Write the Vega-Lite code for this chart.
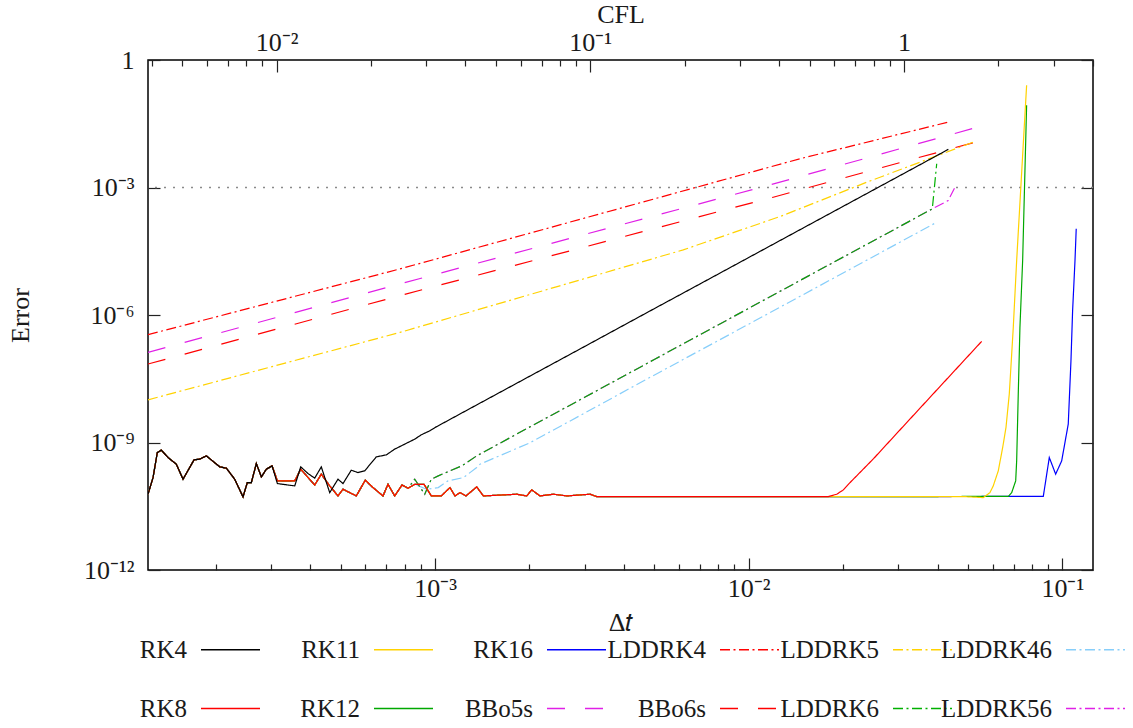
{
"$schema": "https://vega.github.io/schema/vega-lite/v6.json",
"width": 945,
"height": 510,
"autosize": "none",
"padding": {"left": 148, "top": 60, "right": 40, "bottom": 158},
"background": "white",
"config": {
  "font": "Liberation Serif",
  "view": {"stroke": "#000", "strokeWidth": 1.5},
  "axis": {"grid": false, "domain": false, "tickColor": "#222", "tickWidth": 1.2, "labelFont": "Liberation Serif", "labelFontSize": 26, "labelColor": "#1a1a1a", "titleFont": "Liberation Serif", "titleFontSize": 26, "titleFontWeight": "normal", "titleColor": "#1a1a1a", "labelOverlap": false, "labelFlush": false, "labelBound": false}
},
"datasets": {
"curves": [
{"method":"LDDRK4","dt":1.216e-4,"err":3.44e-7},{"method":"LDDRK4","dt":2.572e-4,"err":1.46e-6},{"method":"LDDRK4","dt":7.735e-4,"err":1.216e-5},{"method":"LDDRK4","dt":3.357e-3,"err":2.4e-4},{"method":"LDDRK4","dt":1.457e-2,"err":4.75e-3},{"method":"LDDRK4","dt":4.327e-2,"err":3.46e-2},
{"method":"BBo5s","dt":1.216e-4,"err":1.32e-7},{"method":"BBo5s","dt":7.735e-4,"err":5.38e-6},{"method":"BBo5s","dt":3e-3,"err":7.85e-5},{"method":"BBo5s","dt":1.127e-2,"err":1.07e-3},{"method":"BBo5s","dt":5.528e-2,"err":2.79e-2},
{"method":"BBo6s","dt":1.216e-4,"err":7.02e-8},{"method":"BBo6s","dt":7.735e-4,"err":2.86e-6},{"method":"BBo6s","dt":3e-3,"err":3.99e-5},{"method":"BBo6s","dt":1.197e-2,"err":5.91e-4},{"method":"BBo6s","dt":5.876e-2,"err":1.45e-2},
{"method":"LDDRK5","dt":1.216e-4,"err":1.01e-8},{"method":"LDDRK5","dt":7.735e-4,"err":3.9e-7},{"method":"LDDRK5","dt":2.5e-3,"err":4.86e-6},{"method":"LDDRK5","dt":6.185e-3,"err":3.41e-5},{"method":"LDDRK5","dt":1.258e-2,"err":2.07e-4},{"method":"LDDRK5","dt":2.377e-2,"err":1.33e-3},{"method":"LDDRK5","dt":3.878e-2,"err":5.18e-3},{"method":"LDDRK5","dt":5.2e-2,"err":1.17e-2},

{"method":"LDDRK46","dt":1.216e-4,"err":6.07e-11},{"method":"LDDRK46","dt":1.262e-4,"err":1.49e-10},{"method":"LDDRK46","dt":1.302e-4,"err":5.8e-10},{"method":"LDDRK46","dt":1.341e-4,"err":6.61e-10},{"method":"LDDRK46","dt":1.409e-4,"err":4.43e-10},{"method":"LDDRK46","dt":1.497e-4,"err":3.09e-10},{"method":"LDDRK46","dt":1.573e-4,"err":1.37e-10},{"method":"LDDRK46","dt":1.705e-4,"err":3.9e-10},{"method":"LDDRK46","dt":1.778e-4,"err":4.06e-10},{"method":"LDDRK46","dt":1.866e-4,"err":4.85e-10},{"method":"LDDRK46","dt":2.06e-4,"err":2.67e-10},{"method":"LDDRK46","dt":2.162e-4,"err":2.49e-10},{"method":"LDDRK46","dt":2.298e-4,"err":1.37e-10},{"method":"LDDRK46","dt":2.443e-4,"err":5.25e-11},{"method":"LDDRK46","dt":2.521e-4,"err":1.14e-10},{"method":"LDDRK46","dt":2.597e-4,"err":1.14e-10},{"method":"LDDRK46","dt":2.694e-4,"err":3.19e-10},{"method":"LDDRK46","dt":2.795e-4,"err":1.55e-10},{"method":"LDDRK46","dt":2.9e-4,"err":2.36e-10},{"method":"LDDRK46","dt":3.024e-4,"err":2.82e-10},{"method":"LDDRK46","dt":3.144e-4,"err":1.25e-10},{"method":"LDDRK46","dt":3.571e-4,"err":1.25e-10},{"method":"LDDRK46","dt":3.732e-4,"err":2.36e-10},{"method":"LDDRK46","dt":4.135e-4,"err":1e-10},{"method":"LDDRK46","dt":4.34e-4,"err":1.8e-10},{"method":"LDDRK46","dt":4.616e-4,"err":9.52e-11},{"method":"LDDRK46","dt":4.906e-4,"err":5.53e-11},{"method":"LDDRK46","dt":5.089e-4,"err":7.96e-11},{"method":"LDDRK46","dt":5.61e-4,"err":5.53e-11},{"method":"LDDRK46","dt":5.994e-4,"err":1.3e-10},{"method":"LDDRK46","dt":6.343e-4,"err":8.69e-11},{"method":"LDDRK46","dt":6.826e-4,"err":5.53e-11},{"method":"LDDRK46","dt":7.082e-4,"err":1.04e-10},{"method":"LDDRK46","dt":7.437e-4,"err":5.53e-11},{"method":"LDDRK46","dt":7.847e-4,"err":1e-10},{"method":"LDDRK46","dt":8.203e-4,"err":8.41e-11},{"method":"LDDRK46","dt":8.617e-4,"err":1.04e-10},
{"method":"LDDRK46","dt":9.408e-4,"err":7.96e-11},{"method":"LDDRK46","dt":1.024e-3,"err":8.69e-11},{"method":"LDDRK46","dt":1.1e-3,"err":1.25e-10},{"method":"LDDRK46","dt":1.231e-3,"err":1.49e-10},{"method":"LDDRK46","dt":1.358e-3,"err":2.57e-10},{"method":"LDDRK46","dt":1.391e-3,"err":3.09e-10},{"method":"LDDRK46","dt":2e-3,"err":9.74e-10},{"method":"LDDRK46","dt":3e-3,"err":4.93e-9},{"method":"LDDRK46","dt":4.613e-3,"err":2.8e-8},{"method":"LDDRK46","dt":1e-2,"err":6.09e-7},{"method":"LDDRK46","dt":2e-2,"err":9.74e-6},{"method":"LDDRK46","dt":3e-2,"err":4.93e-5},{"method":"LDDRK46","dt":3.975e-2,"err":1.52e-4},

{"method":"LDDRK56","dt":1.216e-4,"err":6.07e-11},{"method":"LDDRK56","dt":1.262e-4,"err":1.49e-10},{"method":"LDDRK56","dt":1.302e-4,"err":5.8e-10},{"method":"LDDRK56","dt":1.341e-4,"err":6.61e-10},{"method":"LDDRK56","dt":1.409e-4,"err":4.43e-10},{"method":"LDDRK56","dt":1.497e-4,"err":3.09e-10},{"method":"LDDRK56","dt":1.573e-4,"err":1.37e-10},{"method":"LDDRK56","dt":1.705e-4,"err":3.9e-10},{"method":"LDDRK56","dt":1.778e-4,"err":4.06e-10},{"method":"LDDRK56","dt":1.866e-4,"err":4.85e-10},{"method":"LDDRK56","dt":2.06e-4,"err":2.67e-10},{"method":"LDDRK56","dt":2.162e-4,"err":2.49e-10},{"method":"LDDRK56","dt":2.298e-4,"err":1.37e-10},{"method":"LDDRK56","dt":2.443e-4,"err":5.25e-11},{"method":"LDDRK56","dt":2.521e-4,"err":1.14e-10},{"method":"LDDRK56","dt":2.597e-4,"err":1.14e-10},{"method":"LDDRK56","dt":2.694e-4,"err":3.19e-10},{"method":"LDDRK56","dt":2.795e-4,"err":1.55e-10},{"method":"LDDRK56","dt":2.9e-4,"err":2.36e-10},{"method":"LDDRK56","dt":3.024e-4,"err":2.82e-10},{"method":"LDDRK56","dt":3.144e-4,"err":1.25e-10},{"method":"LDDRK56","dt":3.571e-4,"err":1.25e-10},{"method":"LDDRK56","dt":3.732e-4,"err":2.36e-10},{"method":"LDDRK56","dt":4.135e-4,"err":1e-10},{"method":"LDDRK56","dt":4.34e-4,"err":1.8e-10},{"method":"LDDRK56","dt":4.616e-4,"err":9.52e-11},{"method":"LDDRK56","dt":4.906e-4,"err":5.53e-11},{"method":"LDDRK56","dt":5.089e-4,"err":7.96e-11},{"method":"LDDRK56","dt":5.61e-4,"err":5.53e-11},{"method":"LDDRK56","dt":5.994e-4,"err":1.3e-10},{"method":"LDDRK56","dt":6.343e-4,"err":8.69e-11},{"method":"LDDRK56","dt":6.826e-4,"err":5.53e-11},{"method":"LDDRK56","dt":7.082e-4,"err":1.04e-10},{"method":"LDDRK56","dt":7.437e-4,"err":5.53e-11},{"method":"LDDRK56","dt":7.847e-4,"err":1e-10},{"method":"LDDRK56","dt":8.203e-4,"err":8.41e-11},
{"method":"LDDRK56","dt":8.617e-4,"err":1.37e-10},{"method":"LDDRK56","dt":9.273e-4,"err":6.07e-11},{"method":"LDDRK56","dt":9.732e-4,"err":1.37e-10},{"method":"LDDRK56","dt":1.024e-3,"err":1.64e-10},{"method":"LDDRK56","dt":1.116e-3,"err":2.15e-10},{"method":"LDDRK56","dt":1.217e-3,"err":2.82e-10},{"method":"LDDRK56","dt":1.358e-3,"err":4.85e-10},{"method":"LDDRK56","dt":2e-3,"err":2.3e-9},{"method":"LDDRK56","dt":3e-3,"err":1.16e-8},{"method":"LDDRK56","dt":5e-3,"err":8.97e-8},{"method":"LDDRK56","dt":1e-2,"err":1.435e-6},{"method":"LDDRK56","dt":2e-2,"err":2.3e-5},{"method":"LDDRK56","dt":3e-2,"err":1.16e-4},{"method":"LDDRK56","dt":3.849e-2,"err":3.15e-4},{"method":"LDDRK56","dt":4.327e-2,"err":4.94e-4},{"method":"LDDRK56","dt":4.546e-2,"err":1.02e-3},

{"method":"LDDRK6","dt":1.216e-4,"err":6.07e-11},{"method":"LDDRK6","dt":1.262e-4,"err":1.49e-10},{"method":"LDDRK6","dt":1.302e-4,"err":5.8e-10},{"method":"LDDRK6","dt":1.341e-4,"err":6.61e-10},{"method":"LDDRK6","dt":1.409e-4,"err":4.43e-10},{"method":"LDDRK6","dt":1.497e-4,"err":3.09e-10},{"method":"LDDRK6","dt":1.573e-4,"err":1.37e-10},{"method":"LDDRK6","dt":1.705e-4,"err":3.9e-10},{"method":"LDDRK6","dt":1.778e-4,"err":4.06e-10},{"method":"LDDRK6","dt":1.866e-4,"err":4.85e-10},{"method":"LDDRK6","dt":2.06e-4,"err":2.67e-10},{"method":"LDDRK6","dt":2.162e-4,"err":2.49e-10},{"method":"LDDRK6","dt":2.298e-4,"err":1.37e-10},{"method":"LDDRK6","dt":2.443e-4,"err":5.25e-11},{"method":"LDDRK6","dt":2.521e-4,"err":1.14e-10},{"method":"LDDRK6","dt":2.597e-4,"err":1.14e-10},{"method":"LDDRK6","dt":2.694e-4,"err":3.19e-10},{"method":"LDDRK6","dt":2.795e-4,"err":1.55e-10},{"method":"LDDRK6","dt":2.9e-4,"err":2.36e-10},{"method":"LDDRK6","dt":3.024e-4,"err":2.82e-10},{"method":"LDDRK6","dt":3.144e-4,"err":1.25e-10},{"method":"LDDRK6","dt":3.571e-4,"err":1.25e-10},{"method":"LDDRK6","dt":3.732e-4,"err":2.36e-10},{"method":"LDDRK6","dt":4.135e-4,"err":1e-10},{"method":"LDDRK6","dt":4.34e-4,"err":1.8e-10},{"method":"LDDRK6","dt":4.616e-4,"err":9.52e-11},{"method":"LDDRK6","dt":4.906e-4,"err":5.53e-11},{"method":"LDDRK6","dt":5.089e-4,"err":7.96e-11},{"method":"LDDRK6","dt":5.61e-4,"err":5.53e-11},{"method":"LDDRK6","dt":5.994e-4,"err":1.3e-10},{"method":"LDDRK6","dt":6.343e-4,"err":8.69e-11},{"method":"LDDRK6","dt":6.826e-4,"err":5.53e-11},{"method":"LDDRK6","dt":7.082e-4,"err":1.04e-10},{"method":"LDDRK6","dt":7.437e-4,"err":5.53e-11},{"method":"LDDRK6","dt":7.847e-4,"err":1e-10},{"method":"LDDRK6","dt":8.203e-4,"err":8.41e-11},
{"method":"LDDRK6","dt":8.617e-4,"err":1.37e-10},{"method":"LDDRK6","dt":9.273e-4,"err":6.07e-11},{"method":"LDDRK6","dt":9.732e-4,"err":1.37e-10},{"method":"LDDRK6","dt":1.024e-3,"err":1.64e-10},{"method":"LDDRK6","dt":1.116e-3,"err":2.15e-10},{"method":"LDDRK6","dt":1.217e-3,"err":2.82e-10},{"method":"LDDRK6","dt":1.358e-3,"err":4.85e-10},{"method":"LDDRK6","dt":2e-3,"err":2.3e-9},{"method":"LDDRK6","dt":3e-3,"err":1.16e-8},{"method":"LDDRK6","dt":5e-3,"err":8.97e-8},{"method":"LDDRK6","dt":1e-2,"err":1.435e-6},{"method":"LDDRK6","dt":2e-2,"err":2.3e-5},{"method":"LDDRK6","dt":3e-2,"err":1.16e-4},{"method":"LDDRK6","dt":3.849e-2,"err":3.15e-4},{"method":"LDDRK6","dt":3.975e-2,"err":3.62e-3},

{"method":"RK16","dt":1.216e-4,"err":6.07e-11},{"method":"RK16","dt":1.262e-4,"err":1.49e-10},{"method":"RK16","dt":1.302e-4,"err":5.8e-10},{"method":"RK16","dt":1.341e-4,"err":6.61e-10},{"method":"RK16","dt":1.409e-4,"err":4.43e-10},{"method":"RK16","dt":1.497e-4,"err":3.09e-10},{"method":"RK16","dt":1.573e-4,"err":1.37e-10},{"method":"RK16","dt":1.705e-4,"err":3.9e-10},{"method":"RK16","dt":1.778e-4,"err":4.06e-10},{"method":"RK16","dt":1.866e-4,"err":4.85e-10},{"method":"RK16","dt":2.06e-4,"err":2.67e-10},{"method":"RK16","dt":2.162e-4,"err":2.49e-10},{"method":"RK16","dt":2.298e-4,"err":1.37e-10},{"method":"RK16","dt":2.443e-4,"err":5.25e-11},{"method":"RK16","dt":2.521e-4,"err":1.14e-10},{"method":"RK16","dt":2.597e-4,"err":1.14e-10},{"method":"RK16","dt":2.694e-4,"err":3.19e-10},{"method":"RK16","dt":2.795e-4,"err":1.55e-10},{"method":"RK16","dt":2.9e-4,"err":2.36e-10},{"method":"RK16","dt":3.024e-4,"err":2.82e-10},{"method":"RK16","dt":3.144e-4,"err":1.25e-10},{"method":"RK16","dt":3.571e-4,"err":1.25e-10},{"method":"RK16","dt":3.732e-4,"err":2.36e-10},{"method":"RK16","dt":4.135e-4,"err":1e-10},{"method":"RK16","dt":4.34e-4,"err":1.8e-10},{"method":"RK16","dt":4.616e-4,"err":9.52e-11},{"method":"RK16","dt":4.906e-4,"err":5.53e-11},{"method":"RK16","dt":5.089e-4,"err":7.96e-11},{"method":"RK16","dt":5.61e-4,"err":5.53e-11},{"method":"RK16","dt":5.994e-4,"err":1.3e-10},{"method":"RK16","dt":6.343e-4,"err":8.69e-11},{"method":"RK16","dt":6.826e-4,"err":5.53e-11},{"method":"RK16","dt":7.082e-4,"err":1.04e-10},{"method":"RK16","dt":7.437e-4,"err":5.53e-11},{"method":"RK16","dt":7.847e-4,"err":1e-10},{"method":"RK16","dt":8.203e-4,"err":8.41e-11},{"method":"RK16","dt":8.617e-4,"err":1.04e-10},{"method":"RK16","dt":9.224e-4,"err":1.04e-10},{"method":"RK16","dt":9.732e-4,"err":5.53e-11},{"method":"RK16","dt":1.047e-3,"err":5.53e-11},{"method":"RK16","dt":1.116e-3,"err":8.69e-11},{"method":"RK16","dt":1.158e-3,"err":5.53e-11},{"method":"RK16","dt":1.201e-3,"err":6.62e-11},{"method":"RK16","dt":1.255e-3,"err":5.53e-11},{"method":"RK16","dt":1.358e-3,"err":9.02e-11},{"method":"RK16","dt":1.426e-3,"err":5.53e-11},{"method":"RK16","dt":1.822e-3,"err":6.07e-11},{"method":"RK16","dt":1.96e-3,"err":5.53e-11},{"method":"RK16","dt":2.034e-3,"err":7.67e-11},{"method":"RK16","dt":2.161e-3,"err":5.53e-11},{"method":"RK16","dt":2.383e-3,"err":6.07e-11},{"method":"RK16","dt":2.63e-3,"err":5.53e-11},{"method":"RK16","dt":3.12e-3,"err":6.07e-11},{"method":"RK16","dt":3.278e-3,"err":5.33e-11},
{"method":"RK16","dt":5e-3,"err":5.33e-11},{"method":"RK16","dt":1e-2,"err":5.33e-11},{"method":"RK16","dt":3e-2,"err":5.33e-11},{"method":"RK16","dt":8.693e-2,"err":5.4e-11},{"method":"RK16","dt":9.084e-2,"err":4.43e-10},{"method":"RK16","dt":9.519e-2,"err":1.8e-10},{"method":"RK16","dt":9.949e-2,"err":3.7e-10},{"method":"RK16","dt":0.1044,"err":2.71e-9},{"method":"RK16","dt":0.1065,"err":8.4e-8},{"method":"RK16","dt":0.1078,"err":1.27e-6},{"method":"RK16","dt":0.1097,"err":1.91e-5},{"method":"RK16","dt":0.1107,"err":1.07e-4},

{"method":"RK12","dt":1.216e-4,"err":6.07e-11},{"method":"RK12","dt":1.262e-4,"err":1.49e-10},{"method":"RK12","dt":1.302e-4,"err":5.8e-10},{"method":"RK12","dt":1.341e-4,"err":6.61e-10},{"method":"RK12","dt":1.409e-4,"err":4.43e-10},{"method":"RK12","dt":1.497e-4,"err":3.09e-10},{"method":"RK12","dt":1.573e-4,"err":1.37e-10},{"method":"RK12","dt":1.705e-4,"err":3.9e-10},{"method":"RK12","dt":1.778e-4,"err":4.06e-10},{"method":"RK12","dt":1.866e-4,"err":4.85e-10},{"method":"RK12","dt":2.06e-4,"err":2.67e-10},{"method":"RK12","dt":2.162e-4,"err":2.49e-10},{"method":"RK12","dt":2.298e-4,"err":1.37e-10},{"method":"RK12","dt":2.443e-4,"err":5.25e-11},{"method":"RK12","dt":2.521e-4,"err":1.14e-10},{"method":"RK12","dt":2.597e-4,"err":1.14e-10},{"method":"RK12","dt":2.694e-4,"err":3.19e-10},{"method":"RK12","dt":2.795e-4,"err":1.55e-10},{"method":"RK12","dt":2.9e-4,"err":2.36e-10},{"method":"RK12","dt":3.024e-4,"err":2.82e-10},{"method":"RK12","dt":3.144e-4,"err":1.25e-10},{"method":"RK12","dt":3.571e-4,"err":1.25e-10},{"method":"RK12","dt":3.732e-4,"err":2.36e-10},{"method":"RK12","dt":4.135e-4,"err":1e-10},{"method":"RK12","dt":4.34e-4,"err":1.8e-10},{"method":"RK12","dt":4.616e-4,"err":9.52e-11},{"method":"RK12","dt":4.906e-4,"err":5.53e-11},{"method":"RK12","dt":5.089e-4,"err":7.96e-11},{"method":"RK12","dt":5.61e-4,"err":5.53e-11},{"method":"RK12","dt":5.994e-4,"err":1.3e-10},{"method":"RK12","dt":6.343e-4,"err":8.69e-11},{"method":"RK12","dt":6.826e-4,"err":5.53e-11},{"method":"RK12","dt":7.082e-4,"err":1.04e-10},{"method":"RK12","dt":7.437e-4,"err":5.53e-11},{"method":"RK12","dt":7.847e-4,"err":1e-10},{"method":"RK12","dt":8.203e-4,"err":8.41e-11},{"method":"RK12","dt":8.617e-4,"err":1.04e-10},{"method":"RK12","dt":9.224e-4,"err":1.04e-10},{"method":"RK12","dt":9.732e-4,"err":5.53e-11},{"method":"RK12","dt":1.047e-3,"err":5.53e-11},{"method":"RK12","dt":1.116e-3,"err":8.69e-11},{"method":"RK12","dt":1.158e-3,"err":5.53e-11},{"method":"RK12","dt":1.201e-3,"err":6.62e-11},{"method":"RK12","dt":1.255e-3,"err":5.53e-11},{"method":"RK12","dt":1.358e-3,"err":9.02e-11},{"method":"RK12","dt":1.426e-3,"err":5.53e-11},{"method":"RK12","dt":1.822e-3,"err":6.07e-11},{"method":"RK12","dt":1.96e-3,"err":5.53e-11},{"method":"RK12","dt":2.034e-3,"err":7.67e-11},{"method":"RK12","dt":2.161e-3,"err":5.53e-11},{"method":"RK12","dt":2.383e-3,"err":6.07e-11},{"method":"RK12","dt":2.63e-3,"err":5.53e-11},{"method":"RK12","dt":3.12e-3,"err":6.07e-11},{"method":"RK12","dt":3.278e-3,"err":5.33e-11},
{"method":"RK12","dt":5e-3,"err":5.33e-11},{"method":"RK12","dt":1e-2,"err":5.33e-11},{"method":"RK12","dt":3e-2,"err":5.33e-11},{"method":"RK12","dt":6.724e-2,"err":5.4e-11},{"method":"RK12","dt":6.893e-2,"err":6.62e-11},{"method":"RK12","dt":7.098e-2,"err":1.25e-10},{"method":"RK12","dt":7.149e-2,"err":3.7e-10},{"method":"RK12","dt":7.233e-2,"err":1.38e-8},{"method":"RK12","dt":7.323e-2,"err":5.12e-7},{"method":"RK12","dt":7.47e-2,"err":1.91e-5},{"method":"RK12","dt":7.691e-2,"err":8.57e-2},

{"method":"RK11","dt":1.216e-4,"err":6.07e-11},{"method":"RK11","dt":1.262e-4,"err":1.49e-10},{"method":"RK11","dt":1.302e-4,"err":5.8e-10},{"method":"RK11","dt":1.341e-4,"err":6.61e-10},{"method":"RK11","dt":1.409e-4,"err":4.43e-10},{"method":"RK11","dt":1.497e-4,"err":3.09e-10},{"method":"RK11","dt":1.573e-4,"err":1.37e-10},{"method":"RK11","dt":1.705e-4,"err":3.9e-10},{"method":"RK11","dt":1.778e-4,"err":4.06e-10},{"method":"RK11","dt":1.866e-4,"err":4.85e-10},{"method":"RK11","dt":2.06e-4,"err":2.67e-10},{"method":"RK11","dt":2.162e-4,"err":2.49e-10},{"method":"RK11","dt":2.298e-4,"err":1.37e-10},{"method":"RK11","dt":2.443e-4,"err":5.25e-11},{"method":"RK11","dt":2.521e-4,"err":1.14e-10},{"method":"RK11","dt":2.597e-4,"err":1.14e-10},{"method":"RK11","dt":2.694e-4,"err":3.19e-10},{"method":"RK11","dt":2.795e-4,"err":1.55e-10},{"method":"RK11","dt":2.9e-4,"err":2.36e-10},{"method":"RK11","dt":3.024e-4,"err":2.82e-10},{"method":"RK11","dt":3.144e-4,"err":1.25e-10},{"method":"RK11","dt":3.571e-4,"err":1.25e-10},{"method":"RK11","dt":3.732e-4,"err":2.36e-10},{"method":"RK11","dt":4.135e-4,"err":1e-10},{"method":"RK11","dt":4.34e-4,"err":1.8e-10},{"method":"RK11","dt":4.616e-4,"err":9.52e-11},{"method":"RK11","dt":4.906e-4,"err":5.53e-11},{"method":"RK11","dt":5.089e-4,"err":7.96e-11},{"method":"RK11","dt":5.61e-4,"err":5.53e-11},{"method":"RK11","dt":5.994e-4,"err":1.3e-10},{"method":"RK11","dt":6.343e-4,"err":8.69e-11},{"method":"RK11","dt":6.826e-4,"err":5.53e-11},{"method":"RK11","dt":7.082e-4,"err":1.04e-10},{"method":"RK11","dt":7.437e-4,"err":5.53e-11},{"method":"RK11","dt":7.847e-4,"err":1e-10},{"method":"RK11","dt":8.203e-4,"err":8.41e-11},{"method":"RK11","dt":8.617e-4,"err":1.04e-10},{"method":"RK11","dt":9.224e-4,"err":1.04e-10},{"method":"RK11","dt":9.732e-4,"err":5.53e-11},{"method":"RK11","dt":1.047e-3,"err":5.53e-11},{"method":"RK11","dt":1.116e-3,"err":8.69e-11},{"method":"RK11","dt":1.158e-3,"err":5.53e-11},{"method":"RK11","dt":1.201e-3,"err":6.62e-11},{"method":"RK11","dt":1.255e-3,"err":5.53e-11},{"method":"RK11","dt":1.358e-3,"err":9.02e-11},{"method":"RK11","dt":1.426e-3,"err":5.53e-11},{"method":"RK11","dt":1.822e-3,"err":6.07e-11},{"method":"RK11","dt":1.96e-3,"err":5.53e-11},{"method":"RK11","dt":2.034e-3,"err":7.67e-11},{"method":"RK11","dt":2.161e-3,"err":5.53e-11},{"method":"RK11","dt":2.383e-3,"err":6.07e-11},{"method":"RK11","dt":2.63e-3,"err":5.53e-11},{"method":"RK11","dt":3.12e-3,"err":6.07e-11},{"method":"RK11","dt":3.278e-3,"err":5.33e-11},
{"method":"RK11","dt":5e-3,"err":5.33e-11},{"method":"RK11","dt":1e-2,"err":5.33e-11},{"method":"RK11","dt":3e-2,"err":5.33e-11},{"method":"RK11","dt":4.891e-2,"err":5.33e-11},{"method":"RK11","dt":5.46e-2,"err":5.1e-11},{"method":"RK11","dt":5.594e-2,"err":5.05e-11},{"method":"RK11","dt":5.875e-2,"err":6.62e-11},{"method":"RK11","dt":6.02e-2,"err":9.52e-11},{"method":"RK11","dt":6.246e-2,"err":2.15e-10},{"method":"RK11","dt":6.451e-2,"err":7.6e-10},{"method":"RK11","dt":6.61e-2,"err":2.25e-9},{"method":"RK11","dt":6.772e-2,"err":1.38e-8},{"method":"RK11","dt":6.974e-2,"err":5.12e-7},{"method":"RK11","dt":7.149e-2,"err":1.91e-5},{"method":"RK11","dt":7.691e-2,"err":0.2535},

{"method":"RK8","dt":1.216e-4,"err":6.07e-11},{"method":"RK8","dt":1.262e-4,"err":1.49e-10},{"method":"RK8","dt":1.302e-4,"err":5.8e-10},{"method":"RK8","dt":1.341e-4,"err":6.61e-10},{"method":"RK8","dt":1.409e-4,"err":4.43e-10},{"method":"RK8","dt":1.497e-4,"err":3.09e-10},{"method":"RK8","dt":1.573e-4,"err":1.37e-10},{"method":"RK8","dt":1.705e-4,"err":3.9e-10},{"method":"RK8","dt":1.778e-4,"err":4.06e-10},{"method":"RK8","dt":1.866e-4,"err":4.85e-10},{"method":"RK8","dt":2.06e-4,"err":2.67e-10},{"method":"RK8","dt":2.162e-4,"err":2.49e-10},{"method":"RK8","dt":2.298e-4,"err":1.37e-10},{"method":"RK8","dt":2.443e-4,"err":5.25e-11},{"method":"RK8","dt":2.521e-4,"err":1.14e-10},{"method":"RK8","dt":2.597e-4,"err":1.14e-10},{"method":"RK8","dt":2.694e-4,"err":3.19e-10},{"method":"RK8","dt":2.795e-4,"err":1.55e-10},{"method":"RK8","dt":2.9e-4,"err":2.36e-10},{"method":"RK8","dt":3.024e-4,"err":2.82e-10},{"method":"RK8","dt":3.144e-4,"err":1.25e-10},{"method":"RK8","dt":3.571e-4,"err":1.25e-10},{"method":"RK8","dt":3.732e-4,"err":2.36e-10},{"method":"RK8","dt":4.135e-4,"err":1e-10},{"method":"RK8","dt":4.34e-4,"err":1.8e-10},{"method":"RK8","dt":4.616e-4,"err":9.52e-11},{"method":"RK8","dt":4.906e-4,"err":5.53e-11},{"method":"RK8","dt":5.089e-4,"err":7.96e-11},{"method":"RK8","dt":5.61e-4,"err":5.53e-11},{"method":"RK8","dt":5.994e-4,"err":1.3e-10},{"method":"RK8","dt":6.343e-4,"err":8.69e-11},{"method":"RK8","dt":6.826e-4,"err":5.53e-11},{"method":"RK8","dt":7.082e-4,"err":1.04e-10},{"method":"RK8","dt":7.437e-4,"err":5.53e-11},{"method":"RK8","dt":7.847e-4,"err":1e-10},{"method":"RK8","dt":8.203e-4,"err":8.41e-11},{"method":"RK8","dt":8.617e-4,"err":1.04e-10},{"method":"RK8","dt":9.224e-4,"err":1.04e-10},{"method":"RK8","dt":9.732e-4,"err":5.53e-11},{"method":"RK8","dt":1.047e-3,"err":5.53e-11},{"method":"RK8","dt":1.116e-3,"err":8.69e-11},{"method":"RK8","dt":1.158e-3,"err":5.53e-11},{"method":"RK8","dt":1.201e-3,"err":6.62e-11},{"method":"RK8","dt":1.255e-3,"err":5.53e-11},{"method":"RK8","dt":1.358e-3,"err":9.02e-11},{"method":"RK8","dt":1.426e-3,"err":5.53e-11},{"method":"RK8","dt":1.822e-3,"err":6.07e-11},{"method":"RK8","dt":1.96e-3,"err":5.53e-11},{"method":"RK8","dt":2.034e-3,"err":7.67e-11},{"method":"RK8","dt":2.161e-3,"err":5.53e-11},{"method":"RK8","dt":2.383e-3,"err":6.07e-11},{"method":"RK8","dt":2.63e-3,"err":5.53e-11},{"method":"RK8","dt":3.12e-3,"err":6.07e-11},{"method":"RK8","dt":3.278e-3,"err":5.33e-11},
{"method":"RK8","dt":5e-3,"err":5.33e-11},{"method":"RK8","dt":1e-2,"err":5.33e-11},{"method":"RK8","dt":1.794e-2,"err":5.33e-11},{"method":"RK8","dt":1.908e-2,"err":6.07e-11},{"method":"RK8","dt":2.002e-2,"err":7.67e-11},{"method":"RK8","dt":2.104e-2,"err":1.14e-10},{"method":"RK8","dt":2.5e-2,"err":4.16e-10},{"method":"RK8","dt":3e-2,"err":1.8e-9},{"method":"RK8","dt":4e-2,"err":1.8e-8},{"method":"RK8","dt":5.528e-2,"err":2.39e-7},

{"method":"RK4","dt":1.216e-4,"err":6.07e-11},{"method":"RK4","dt":1.262e-4,"err":1.49e-10},{"method":"RK4","dt":1.302e-4,"err":5.8e-10},{"method":"RK4","dt":1.341e-4,"err":6.61e-10},{"method":"RK4","dt":1.409e-4,"err":4.43e-10},{"method":"RK4","dt":1.497e-4,"err":3.09e-10},{"method":"RK4","dt":1.573e-4,"err":1.37e-10},{"method":"RK4","dt":1.705e-4,"err":3.9e-10},{"method":"RK4","dt":1.778e-4,"err":4.06e-10},{"method":"RK4","dt":1.866e-4,"err":4.85e-10},{"method":"RK4","dt":2.06e-4,"err":2.67e-10},{"method":"RK4","dt":2.162e-4,"err":2.49e-10},{"method":"RK4","dt":2.298e-4,"err":1.37e-10},{"method":"RK4","dt":2.443e-4,"err":5.25e-11},{"method":"RK4","dt":2.521e-4,"err":1.14e-10},{"method":"RK4","dt":2.597e-4,"err":1.14e-10},{"method":"RK4","dt":2.694e-4,"err":3.19e-10},{"method":"RK4","dt":2.795e-4,"err":1.55e-10},{"method":"RK4","dt":2.9e-4,"err":2.36e-10},{"method":"RK4","dt":3.024e-4,"err":2.82e-10},
{"method":"RK4","dt":3.144e-4,"err":1.08e-10},{"method":"RK4","dt":3.571e-4,"err":9.52e-11},{"method":"RK4","dt":3.732e-4,"err":2.67e-10},{"method":"RK4","dt":3.937e-4,"err":1.86e-10},{"method":"RK4","dt":4.135e-4,"err":1.45e-10},{"method":"RK4","dt":4.34e-4,"err":2.67e-10},{"method":"RK4","dt":4.616e-4,"err":6.62e-11},{"method":"RK4","dt":4.906e-4,"err":1.37e-10},{"method":"RK4","dt":5.089e-4,"err":1.08e-10},{"method":"RK4","dt":5.408e-4,"err":2.23e-10},{"method":"RK4","dt":5.681e-4,"err":1.96e-10},{"method":"RK4","dt":5.968e-4,"err":2.15e-10},{"method":"RK4","dt":6.498e-4,"err":4.59e-10},{"method":"RK4","dt":6.995e-4,"err":5.12e-10},{"method":"RK4","dt":7.437e-4,"err":6.98e-10},{"method":"RK4","dt":8.004e-4,"err":9.14e-10},{"method":"RK4","dt":8.617e-4,"err":1.2e-9},{"method":"RK4","dt":9.045e-4,"err":1.52e-9},{"method":"RK4","dt":9.618e-4,"err":1.88e-9},{"method":"RK4","dt":1e-3,"err":2.25e-9},{"method":"RK4","dt":1.2e-3,"err":4.67e-9},{"method":"RK4","dt":1.5e-3,"err":1.14e-8},{"method":"RK4","dt":2e-3,"err":3.6e-8},{"method":"RK4","dt":3e-3,"err":1.82e-7},{"method":"RK4","dt":5e-3,"err":1.41e-6},{"method":"RK4","dt":7e-3,"err":5.4e-6},{"method":"RK4","dt":1e-2,"err":2.25e-5},{"method":"RK4","dt":1.5e-2,"err":1.14e-4},{"method":"RK4","dt":2e-2,"err":3.6e-4},{"method":"RK4","dt":3e-2,"err":1.82e-3},{"method":"RK4","dt":4.33e-2,"err":7.9e-3}
],
"refline": [{"err": 0.001}],
"cflaxis": [{"cfl": 0.01, "err": 0.001}]
},
"layer": [
 {
  "data": {"name": "refline"},
  "mark": {"type": "rule", "color": "#8a8a8a", "strokeDash": [2, 7], "strokeWidth": 1.3},
  "encoding": {
    "y": {"field": "err", "type": "quantitative", "scale": {"type": "log", "domain": [1e-12, 1], "nice": false}, "axis": null}
  }
 },
 {
  "data": {"name": "curves"},
  "mark": {"type": "line", "strokeWidth": 1.2, "clip": true},
  "encoding": {
    "x": {"field": "dt", "type": "quantitative",
      "scale": {"type": "log", "domain": [1.2162e-4, 0.1252], "nice": false},
      "axis": {"orient": "bottom", "title": "Δ𝑡", "titlePadding": 2,
        "values": [0.0002,0.0003,0.0004,0.0005,0.0006,0.0007,0.0008,0.0009,0.001,0.002,0.003,0.004,0.005,0.006,0.007,0.008,0.009,0.01,0.02,0.03,0.04,0.05,0.06,0.07,0.08,0.09,0.1],
        "labelExpr": "abs(log(datum.value)/LN10 - round(log(datum.value)/LN10)) < 0.01 ? '10' + replace(replace(replace(replace(replace(''+round(log(datum.value)/LN10),'-','⁻'),'1','¹'),'2','²'),'3','³'),'0','⁰') : ''",
        "tickSize": {"condition": {"test": "abs(log(datum.value)/LN10 - round(log(datum.value)/LN10)) < 0.01", "value": -12}, "value": -6},
        "labelPadding": 17}},
    "y": {"field": "err", "type": "quantitative",
      "scale": {"type": "log", "domain": [1e-12, 1], "nice": false},
      "axis": {"orient": "left", "title": "Error", "titlePadding": 50,
        "values": [1e-12, 1e-9, 1e-6, 1e-3, 1],
        "labelExpr": "datum.value > 0.5 ? '1' : '10' + replace(replace(replace(replace(replace(replace(''+round(log(datum.value)/LN10),'-','⁻'),'1','¹'),'2','²'),'3','³'),'6','⁶'),'9','⁹')",
        "tickSize": -12, "labelPadding": 26}},
    "color": {"field": "method", "type": "nominal",
      "scale": {"domain": ["RK4","RK11","RK16","LDDRK4","LDDRK5","LDDRK46","RK8","RK12","BBo5s","BBo6s","LDDRK6","LDDRK56"],
                "range": ["#000000","#FFD200","#0000FF","#FF0000","#FFD200","#87CEFA","#FF0000","#00A800","#E020E6","#FF0000","#00B000","#E020E6"]},
      "legend": {"orient": "none", "legendX": 52, "legendY": 559, "direction": "horizontal", "columns": 6, "title": null,
        "symbolType": "stroke", "symbolSize": 3481, "symbolStrokeWidth": 1.5, "labelFont": "Liberation Serif", "labelFontSize": 25, "labelColor": "#1a1a1a",
        "labelAlign": "right", "labelOffset": -74, "gridAlign": "all", "columnPadding": -15, "rowPadding": 15, "labelLimit": 300}},
    "strokeDash": {"field": "method", "type": "nominal",
      "scale": {"domain": ["RK4","RK11","RK16","LDDRK4","LDDRK5","LDDRK46","RK8","RK12","BBo5s","BBo6s","LDDRK6","LDDRK56"],
                "range": [[1,0],[1,0],[1,0],[10,3.5,2,3.5],[10,3.5,2,3.5],[10,3.5,2,3.5],[1,0],[1,0],[18,20],[18,20],[10,3.5,2,3.5],[10,3.5,2,3.5]]},
      "legend": {"orient": "none", "legendX": 52, "legendY": 559, "direction": "horizontal", "columns": 6, "title": null,
        "symbolType": "stroke", "symbolSize": 3481, "symbolStrokeWidth": 1.5, "labelFont": "Liberation Serif", "labelFontSize": 25, "labelColor": "#1a1a1a",
        "labelAlign": "right", "labelOffset": -74, "gridAlign": "all", "columnPadding": -15, "rowPadding": 15, "labelLimit": 300}}
  }
 },
 {
  "data": {"name": "cflaxis"},
  "mark": {"type": "point", "opacity": 0},
  "encoding": {
    "x": {"field": "cfl", "type": "quantitative",
      "scale": {"type": "log", "domain": [3.892e-3, 4.006], "nice": false},
      "axis": {"orient": "top", "title": "CFL", "titlePadding": -4,
        "values": [0.004,0.005,0.006,0.007,0.008,0.009,0.01,0.02,0.03,0.04,0.05,0.06,0.07,0.08,0.09,0.1,0.2,0.3,0.4,0.5,0.6,0.7,0.8,0.9,1,2,3,4],
        "labelExpr": "abs(log(datum.value)/LN10 - round(log(datum.value)/LN10)) < 0.01 ? (datum.value > 0.5 ? '1' : '10' + replace(replace(replace(''+round(log(datum.value)/LN10),'-','⁻'),'1','¹'),'2','²')) : ''",
        "tickSize": {"condition": {"test": "abs(log(datum.value)/LN10 - round(log(datum.value)/LN10)) < 0.01", "value": -12}, "value": -6},
        "labelPadding": 17}},
    "y": {"field": "err", "type": "quantitative",
      "scale": {"type": "log", "domain": [1e-12, 1], "nice": false},
      "axis": {"orient": "right", "title": null, "labels": false,
        "values": [1e-12, 1e-9, 1e-6, 1e-3, 1], "tickSize": -12}}
  }
 }
],
"resolve": {"scale": {"x": "independent"}, "axis": {"x": "independent", "y": "independent"}}
}
